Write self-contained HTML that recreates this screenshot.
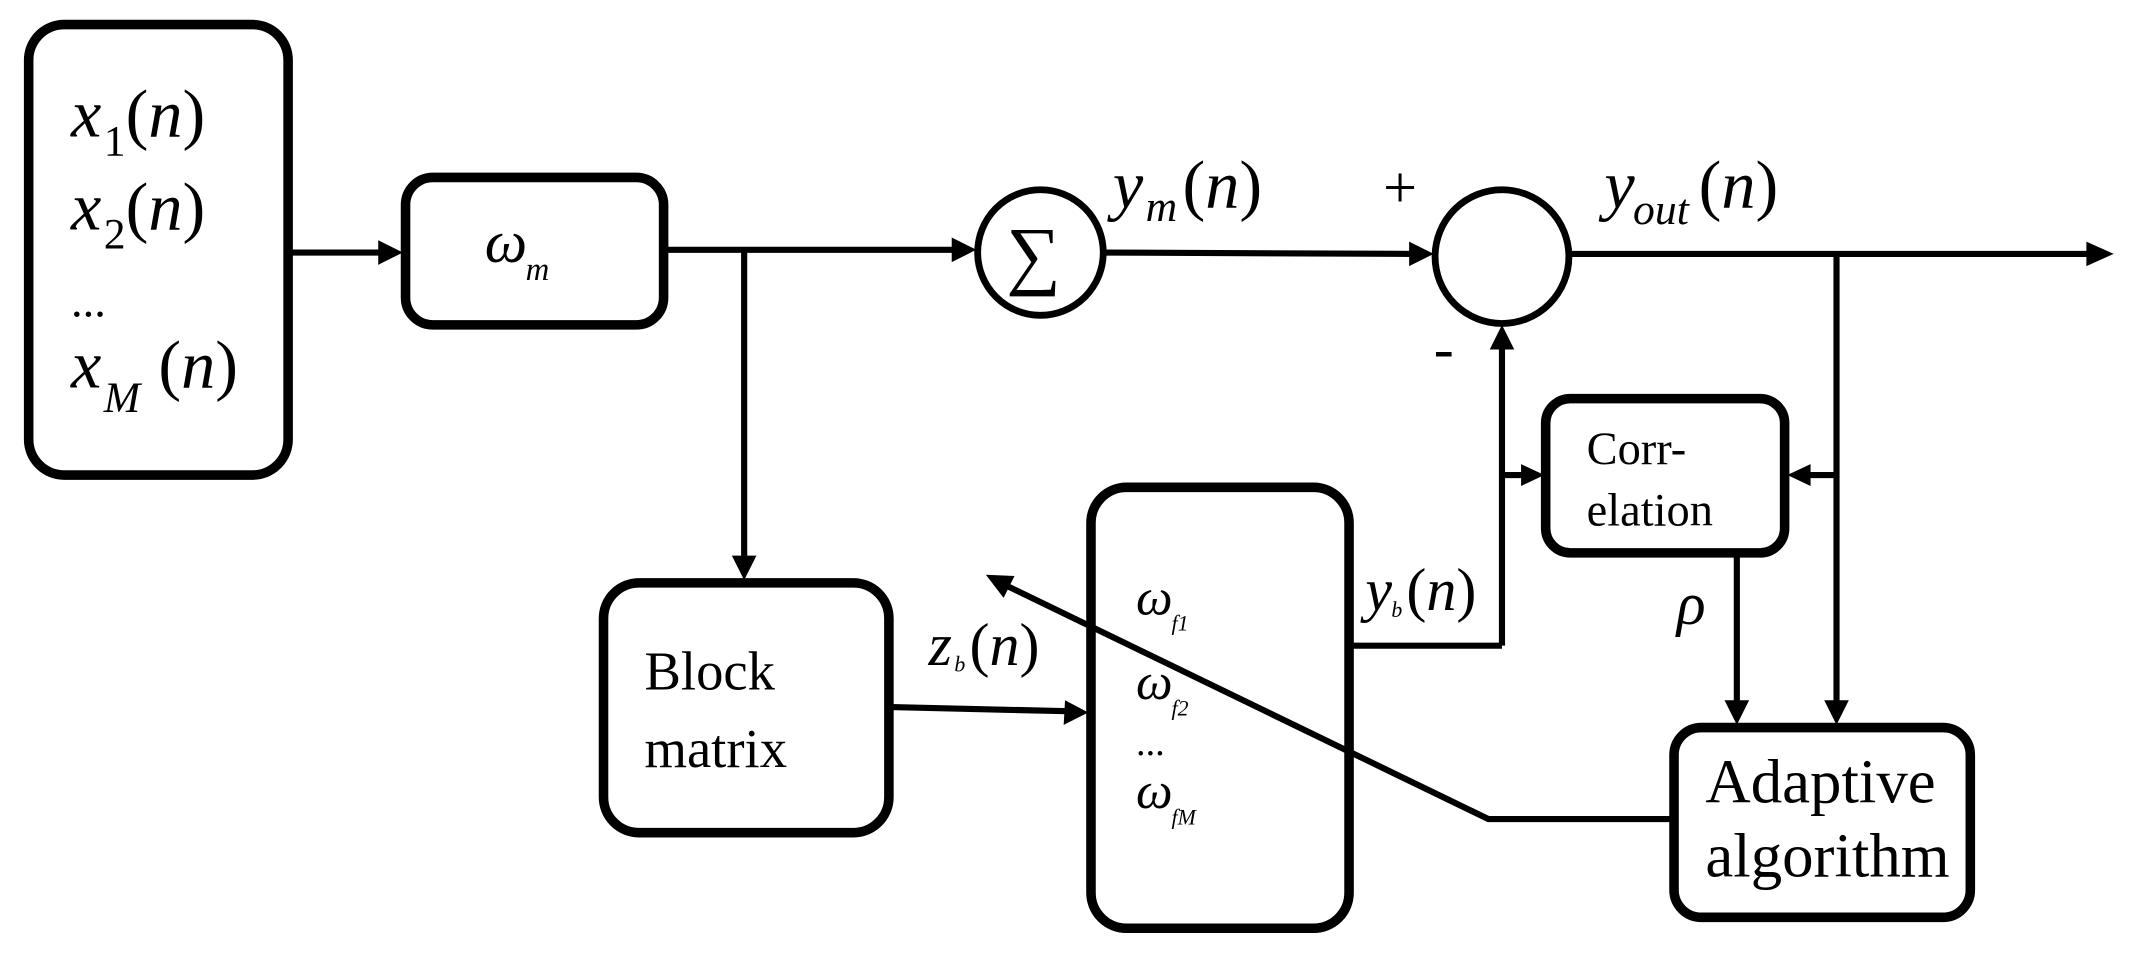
<!DOCTYPE html>
<html><head><meta charset="utf-8"><style>
html,body{margin:0;padding:0;background:#fff;}
svg{display:block;}
text{font-family:"Liberation Serif",serif;fill:#000;}
.it{font-style:italic;}
</style></head><body>
<svg width="2141" height="961" viewBox="0 0 1568 704" preserveAspectRatio="none">
<g fill="none" stroke="#000">
<rect x="21" y="18" width="190" height="330" rx="26" stroke-width="7"/>
<rect x="297" y="130" width="189" height="108" rx="20" stroke-width="7"/>
<rect x="442" y="427" width="209" height="183" rx="26" stroke-width="7"/>
<rect x="799" y="357" width="189" height="323" rx="26" stroke-width="7"/>
<rect x="1132" y="292" width="175" height="113" rx="18" stroke-width="7"/>
<rect x="1226" y="533" width="217" height="139" rx="20" stroke-width="7"/>
<circle cx="762" cy="185" r="46" stroke-width="5"/>
<circle cx="1100" cy="188" r="49" stroke-width="5"/>
<g stroke-width="4.5">
<line x1="213" y1="185" x2="280" y2="185"/>
<line x1="488" y1="183" x2="700" y2="183"/>
<line x1="545" y1="183" x2="545" y2="410"/>
<line x1="808" y1="185" x2="1035" y2="186"/>
<line x1="1149" y1="186" x2="1530" y2="186"/>
<line x1="1345" y1="186" x2="1345" y2="515"/>
<line x1="1345" y1="348" x2="1322" y2="348"/>
<line x1="990" y1="473" x2="1100" y2="473"/>
<line x1="1100" y1="473" x2="1100" y2="255"/>
<line x1="1100" y1="348" x2="1118" y2="348"/>
<line x1="1272" y1="406" x2="1272" y2="515"/>
<line x1="653" y1="518" x2="782" y2="521"/>
<polyline points="1226,600 1090,600 735,428"/>
</g>
</g>
<g fill="#000">
<polygon points="295,185 277,176 277,194"/>
<polygon points="715,183 697,174 697,192"/>
<polygon points="545,425 536,407 554,407"/>
<polygon points="1050,186 1032,177 1032,195"/>
<polygon points="1548,186 1528,177 1528,195"/>
<polygon points="1100,238 1091,256 1109,256"/>
<polygon points="1131,348 1114,340 1114,356"/>
<polygon points="1309,348 1326,340 1326,356"/>
<polygon points="1272,531 1263,513 1281,513"/>
<polygon points="1345,531 1336,513 1354,513"/>
<polygon points="797,522 780,513 779,531"/>
<polygon points="722,421 743,422 735,438"/>
</g>
<g font-size="50">
<text x="52" y="100" class="it">x</text><text x="76" y="114" font-size="32">1</text><text x="92" y="100">(<tspan class="it">n</tspan>)</text>
<text x="52" y="168" class="it">x</text><text x="76" y="182" font-size="32">2</text><text x="92" y="168">(<tspan class="it">n</tspan>)</text>
<text x="52" y="232" font-size="34">...</text>
<text x="52" y="284" class="it">x</text><text x="76" y="302" font-size="32" class="it">M</text><text x="116" y="284">(<tspan class="it">n</tspan>)</text>
<text x="815" y="152" class="it">y</text><text x="839" y="162" font-size="32" class="it">m</text><text x="866" y="152">(<tspan class="it">n</tspan>)</text>
<text x="1175" y="152" class="it">y</text><text x="1196" y="164" font-size="32" class="it">out</text><text x="1244" y="152">(<tspan class="it">n</tspan>)</text>
<text x="1000" y="447" font-size="44" class="it">y</text><text x="1019" y="452" font-size="16" class="it">b</text><text x="1030" y="447" font-size="44">(<tspan class="it">n</tspan>)</text>
<text x="680" y="487" font-size="44" class="it">z</text><text x="699" y="492" font-size="16" class="it">b</text><text x="710" y="487" font-size="44">(<tspan class="it">n</tspan>)</text>
<text x="1228" y="457" font-size="44" class="it">ρ</text>
</g>
<text x="355" y="192" font-size="44" class="it">ω</text><text x="385" y="205" font-size="24" class="it">m</text>
<text x="832" y="450" font-size="38" class="it">ω</text><text x="858" y="462" font-size="16" class="it">f1</text>
<text x="832" y="512" font-size="38" class="it">ω</text><text x="858" y="524" font-size="16" class="it">f2</text>
<text x="832" y="553" font-size="28">...</text>
<text x="832" y="592" font-size="38" class="it">ω</text><text x="858" y="604" font-size="16" class="it">fM</text>
<text x="472" y="505" font-size="40">Block</text>
<text x="472" y="562" font-size="40">matrix</text>
<text x="1162" y="340" font-size="34">Corr-</text>
<text x="1162" y="385" font-size="34">elation</text>
<text x="1249" y="588" font-size="46">Adaptive</text>
<text x="1249" y="642" font-size="46">algorithm</text>
<text x="1013" y="152" font-size="44" font-family="Liberation Sans">+</text>
<text x="1050" y="270" font-size="44" font-family="Liberation Sans">-</text>
<text x="737" y="205" font-size="56" font-family="Liberation Serif">∑</text>
</svg>
</body></html>
